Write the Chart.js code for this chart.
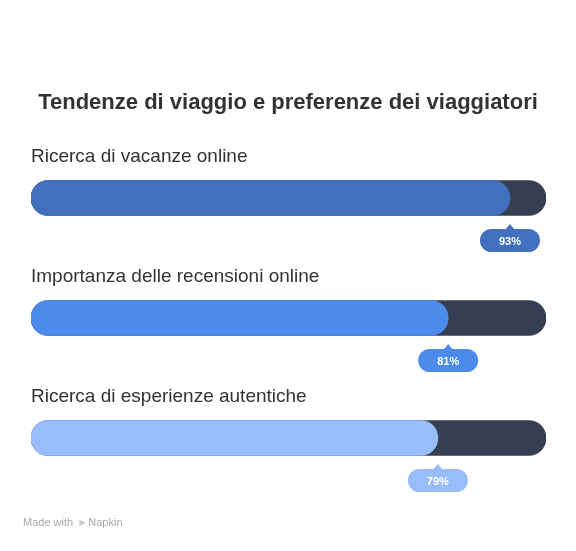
<!DOCTYPE html>
<html><head><meta charset="utf-8">
<script src="https://cdn.jsdelivr.net/npm/chart.js@4/dist/chart.umd.min.js"></script>
<style>html,body{margin:0;padding:0;background:#fff}#w{width:576px;height:551px}</style>
</head><body><div id="w"><canvas id="c"></canvas></div>
<script>
const title = "Tendenze di viaggio e preferenze dei viaggiatori";
const categories = ["Ricerca di vacanze online","Importanza delle recensioni online","Ricerca di esperienze autentiche"];
const values = [93, 81, 79];
const totals = [100, 100, 100];
const colors = ["#4270be", "#4a8bec", "#99bdfb"];
const track = "#353f51";

const overlay = {
  id: 'overlay',
  afterDatasetsDraw(chart) {
    const ctx = chart.ctx, x = chart.scales.x, y = chart.scales.y;
    ctx.save();
    ctx.fillStyle = '#333';
    ctx.font = 'bold 22px "Liberation Sans", Arial, sans-serif';
    ctx.textAlign = 'center'; ctx.textBaseline = 'middle';
    ctx.fillText(title, 288, 103);
    categories.forEach((c, i) => {
      const yc = y.getPixelForValue(i);
      ctx.fillStyle = '#333';
      ctx.font = '19px "Liberation Sans", Arial, sans-serif';
      ctx.textAlign = 'left';
      ctx.fillText(c, 31, yc - 41);
      const xc = x.getPixelForValue(values[i]);
      const top = yc + 31, w = 60, h = 23, r = 11.5;
      ctx.fillStyle = colors[i];
      ctx.beginPath();
      ctx.moveTo(xc - 5, top + 1); ctx.lineTo(xc, top - 5); ctx.lineTo(xc + 5, top + 1); ctx.fill();
      ctx.beginPath();
      ctx.roundRect(xc - w / 2, top, w, h, r); ctx.fill();
      ctx.fillStyle = '#fff';
      ctx.font = 'bold 11px "Liberation Sans", Arial, sans-serif';
      ctx.textAlign = 'center';
      ctx.fillText(values[i] + '%', xc, top + h / 2 + 1);
    });
    ctx.fillStyle = '#aaa';
    ctx.font = '11px "Liberation Sans", Arial, sans-serif';
    ctx.textAlign = 'left';
    ctx.fillText('Made with  ⫸ Napkin', 23, 523);
    ctx.restore();
  }
};

new Chart(document.getElementById('c'), {
  type: 'bar',
  data: {
    labels: categories,
    datasets: [
      { data: values, backgroundColor: colors, barThickness: 35, borderRadius: 18, borderSkipped: false, grouped: false, order: 0 },
      { data: totals, backgroundColor: track, barThickness: 35, borderRadius: 18, borderSkipped: false, grouped: false, order: 1 }
    ]
  },
  options: {
    indexAxis: 'y', responsive: true, maintainAspectRatio: false, animation: false,
    layout: { padding: { left: 31, right: 30, top: 138, bottom: 53 } },
    plugins: { legend: { display: false }, tooltip: { enabled: false } },
    scales: {
      x: { display: false, min: 0, max: 100 },
      y: { display: false }
    }
  },
  plugins: [overlay]
});
</script></body></html>
